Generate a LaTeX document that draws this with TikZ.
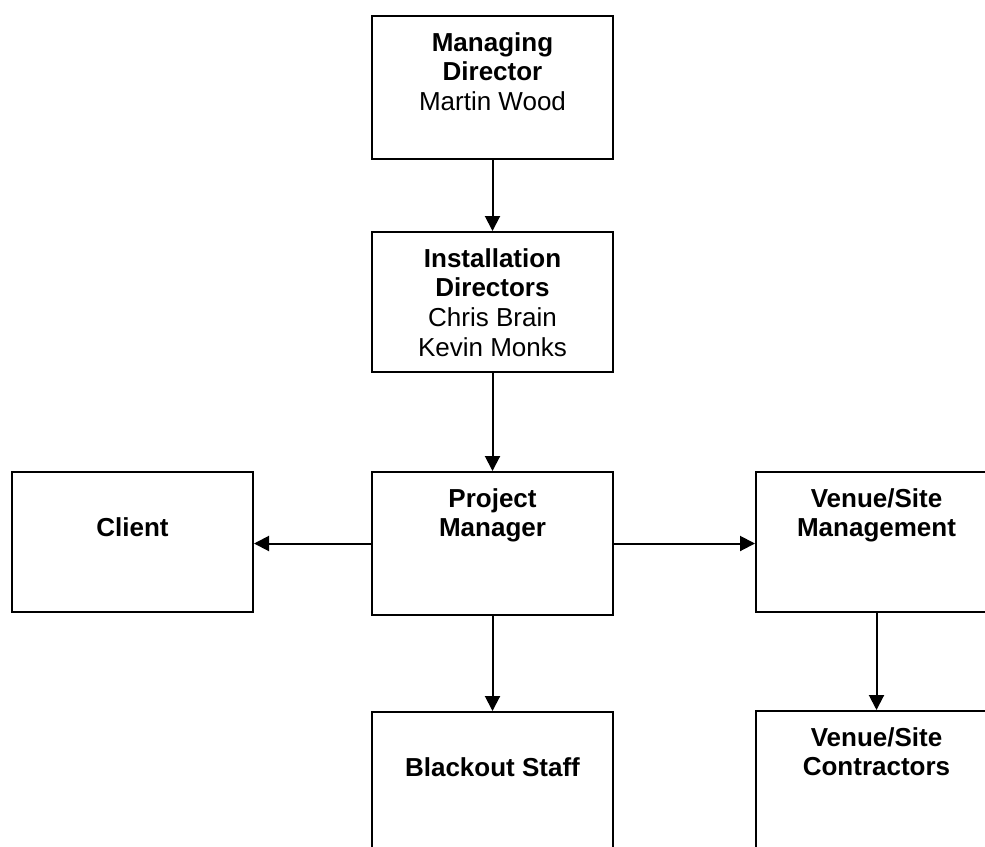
\documentclass[tikz,border=0pt]{standalone}
\usepackage{fontspec}
\setmainfont{Liberation Sans}
\usetikzlibrary{arrows.meta}
\newcommand\boxtxt[2]{\begin{minipage}[t][#1pt][t]{241pt}\centering\fontsize{26pt}{29.7pt}\selectfont\rule{0pt}{35pt}#2\end{minipage}}
\begin{document}
\begin{tikzpicture}[x=1pt,y=-1pt,
  orgbox/.style={draw=black,line width=2pt,inner sep=0pt,anchor=north west,fill=white},
  arr/.style={line width=2pt,-{Triangle[length=15pt,width=15pt]}}]
\useasboundingbox (0,0) rectangle (985,846);
\clip (0,0) rectangle (985,846);
\node[orgbox] (md) at (371,15) {\boxtxt{143}{\textbf{Managing\\Director}\\Martin Wood}};
\node[orgbox] (id) at (371,231) {\boxtxt{140}{\textbf{Installation\\Directors}\\Chris Brain\\Kevin Monks}};
\node[orgbox] (pm) at (371,471) {\boxtxt{143}{\textbf{Project\\Manager}}};
\node[orgbox] (client) at (11,471) {\boxtxt{140}{\\\textbf{Client}}};
\node[orgbox] (venue) at (755,471) {\boxtxt{140}{\textbf{Venue/Site\\Management}}};
\node[orgbox] (staff) at (371,711) {\boxtxt{170}{\\\textbf{Blackout Staff}}};
\node[orgbox] (contr) at (755,710) {\boxtxt{170}{\textbf{Venue/Site\\Contractors}}};
\draw[arr] (md.south) -- (id.north);
\draw[arr] (id.south) -- (pm.north);
\draw[arr] (pm.west) -- (client.east |- pm.west);
\draw[arr] (pm.east) -- (venue.west |- pm.east);
\draw[arr] (pm.south) -- (staff.north);
\draw[arr] ([yshift=2pt]venue.south) -- (contr.north);
\end{tikzpicture}
\end{document}
